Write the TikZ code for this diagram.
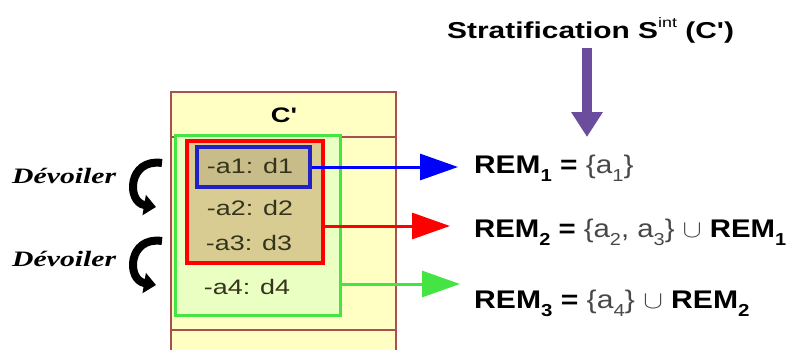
\documentclass[tikz,border=0pt]{standalone}
\usepackage{fontspec}
\setmainfont{Liberation Sans}
\newfontfamily\callifont{Liberation Serif}
\usetikzlibrary{arrows.meta, positioning}

\definecolor{clsfill}{HTML}{FFFFC4}
\definecolor{clsline}{HTML}{A85050}
\definecolor{grnfill}{HTML}{EAFFC2}
\definecolor{grnline}{HTML}{44E444}
\definecolor{redfill}{HTML}{D8CC92}
\definecolor{blufill}{HTML}{C8BC88}
\definecolor{bluline}{HTML}{2222C4}
\definecolor{attrtext}{HTML}{34341E}
\definecolor{settext}{HTML}{484848}
\definecolor{stratpurple}{HTML}{6C4C9C}

\newcommand{\lowidx}[1]{\raisebox{-0.32em}{\scalebox{0.68}{#1}}}
\newcommand{\setpart}[1]{{\mdseries\color{settext}#1}}
\newcommand{\wide}[2]{\scalebox{#1}[1]{#2}}

\begin{document}
\begin{tikzpicture}[
    x=1pt, y=-1pt,
    box/.style={rectangle, draw, inner sep=0pt},
    attr/.style={font=\fontsize{21}{24}\selectfont, text=attrtext},
    rem/.style={anchor=base west, inner sep=0pt, font=\fontsize{25.5}{28}\selectfont\bfseries},
    link/.style={line width=3pt, -{Triangle[length=38pt,width=26pt]}},
    undo/.style={line width=8pt, -{Triangle[length=12pt,width=20pt]}},
    reveal/.style={anchor=west, inner sep=0pt, font=\callifont\fontsize{22}{24}\selectfont\bfseries\itshape}
]
\useasboundingbox (0,0) rectangle (795,349);

% class C'
\node [box, draw=clsline, line width=1.5pt, fill=clsfill, minimum width=225pt, minimum height=270pt] (cls) at (283.5,227) {};
\coordinate (sepA) at (0,137);
\coordinate (sepB) at (0,330);
\draw [clsline, line width=1.2pt] (cls.west |- sepA) -- (cls.east |- sepA);
\draw [clsline, line width=1.2pt] (cls.west |- sepB) -- (cls.east |- sepB);
\node [font=\fontsize{21}{24}\selectfont\bfseries] (cname) at (284,115) {\wide{1.3}{C\textquotesingle}};

% nested strata
\node [box, draw=grnline, line width=3pt, fill=grnfill, minimum width=165pt, minimum height=180pt] (grn) at (257.5,225) {};
\node [box, draw=red, line width=4pt, fill=redfill, minimum width=136pt, minimum height=122pt] (rd) at (255,202) {};
\node [box, draw=bluline, line width=4pt, fill=blufill, minimum width=113pt, minimum height=40pt] (blu) at (253.5,167) {};

\node [attr] (a1) at (250,166) {\wide{1.28}{-a1: d1}};
\node [attr] (a2) at (250,208) {\wide{1.28}{-a2: d2}};
\node [attr] (a3) at (249,243) {\wide{1.28}{-a3: d3}};
\node [attr] (a4) at (247,287) {\wide{1.28}{-a4: d4}};

% results
\node [rem] (rem1) at (474,173) {\wide{1.17}{REM\lowidx{1} = \setpart{\{a\lowidx{1}\}}}};
\node [rem] (rem2) at (474,237) {\wide{1.15}{REM\lowidx{2} = \setpart{\{a\lowidx{2}, a\lowidx{3}\} $\cup$} REM\lowidx{1}}};
\node [rem] (rem3) at (474,308) {\wide{1.18}{REM\lowidx{3} = \setpart{\{a\lowidx{4}\} $\cup$} REM\lowidx{2}}};

\coordinate (tip1) at (458,167);
\coordinate (tip2) at (450,226);
\coordinate (tip3) at (460,284);
\draw [link, blue] (blu.east |- tip1) -- (tip1);
\draw [link, red] (rd.east |- tip2) -- (tip2);
\draw [link, grnline] (grn.east |- tip3) -- (tip3);

% stratification
\node [anchor=base west, inner sep=0pt, font=\fontsize{23}{26}\selectfont\bfseries] (title) at (447,38) {\wide{1.3}{Stratification S\raisebox{0.45em}{\scalebox{0.6}{\mdseries int}} (C\textquotesingle)}};
\coordinate (ptip) at (587,137);
\draw [stratpurple, line width=10pt, -{Triangle[length=25pt,width=30pt]}] (ptip |- 0,48) -- (ptip);

% unveil steps
\node [reveal] (dv1) at (12,176) {\wide{1.35}{Dévoiler}};
\node [reveal] (dv2) at (12,259) {\wide{1.35}{Dévoiler}};
\coordinate (c1) at (162,163);
\coordinate (c2) at (162,241);
\draw [undo] (c1) .. controls (128,158) and (126,202) .. ++(-6,44);
\draw [undo] (c2) .. controls (128,236) and (126,280) .. ++(-6,44);
\end{tikzpicture}
\end{document}
